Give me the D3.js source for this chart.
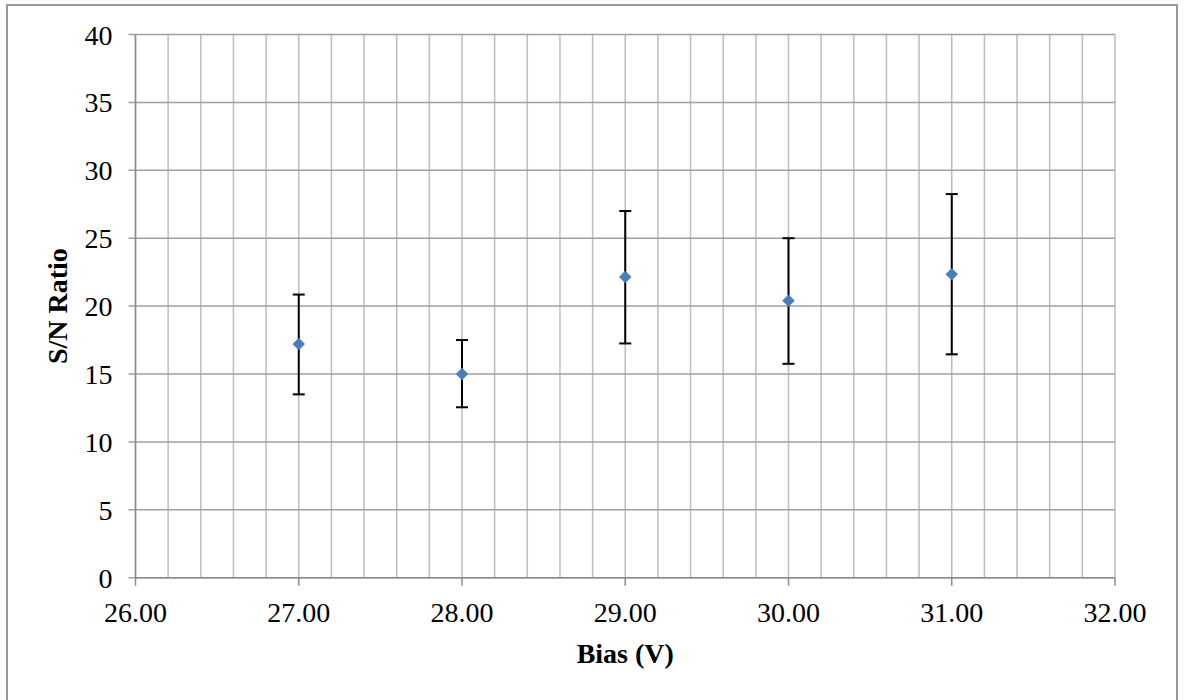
<!DOCTYPE html>
<html>
<head>
<meta charset="utf-8">
<script src="https://cdn.jsdelivr.net/npm/d3@7"></script>
<style>
  body { margin: 0; background: #fff; }
</style>
</head>
<body>
<div id="chart"></div>
<script>
// data
var bias = [27, 28, 29, 30, 31];
var snr = [17.2, 15.0, 22.15, 20.4, 22.35];
var errLow = [13.5, 12.55, 17.25, 15.75, 16.45];
var errHigh = [20.85, 17.5, 27.0, 25.0, 28.25];
var xTicks = [26, 27, 28, 29, 30, 31, 32];
var yTicks = [0, 5, 10, 15, 20, 25, 30, 35, 40];

var width = 1184, height = 700;
var margin = {left: 135.5, right: 69, top: 34.5, bottom: 122.3};
var serif = "'Liberation Serif', 'Times New Roman', 'DejaVu Serif', serif";

var svg = d3.select("#chart").append("svg")
    .attr("width", width)
    .attr("height", height)
    .attr("font-family", serif);

// outer frame
svg.append("rect")
    .attr("x", 7).attr("y", 5)
    .attr("width", 1170).attr("height", 700)
    .attr("fill", "none")
    .attr("stroke", "#9a9a9a")
    .attr("stroke-width", 2);

var x = d3.scaleLinear().domain([26, 32]).range([margin.left, width - margin.right]);
var y = d3.scaleLinear().domain([0, 40]).range([height - margin.bottom, margin.top]);

// minor vertical grid every 0.2
var vGrid = d3.range(0, 31).map(i => 26 + i * 0.2);
svg.append("g")
    .selectAll("line")
    .data(vGrid)
    .join("line")
    .attr("x1", d => x(d)).attr("x2", d => x(d))
    .attr("y1", y(0)).attr("y2", y(40))
    .attr("stroke", "#bdbdbd")
    .attr("stroke-width", 1.5);

// horizontal grid
svg.append("g")
    .selectAll("line")
    .data(yTicks)
    .join("line")
    .attr("x1", x(26) - 7).attr("x2", x(32))
    .attr("y1", d => y(d)).attr("y2", d => y(d))
    .attr("stroke", "#a0a0a0")
    .attr("stroke-width", 1.5);

// axis lines
svg.append("line")
    .attr("x1", x(26)).attr("x2", x(26))
    .attr("y1", y(0)).attr("y2", y(40))
    .attr("stroke", "#8c8c8c").attr("stroke-width", 1.5);
svg.append("line")
    .attr("x1", x(26)).attr("x2", x(32))
    .attr("y1", y(0)).attr("y2", y(0))
    .attr("stroke", "#8c8c8c").attr("stroke-width", 1.5);

// x ticks
svg.append("g")
    .selectAll("line")
    .data(xTicks)
    .join("line")
    .attr("x1", d => x(d)).attr("x2", d => x(d))
    .attr("y1", y(0)).attr("y2", y(0) + 8)
    .attr("stroke", "#8c8c8c").attr("stroke-width", 1.5);

svg.append("g")
    .selectAll("text")
    .data(xTicks)
    .join("text")
    .attr("x", d => x(d))
    .attr("y", y(0) + 44)
    .attr("text-anchor", "middle")
    .attr("font-size", 28)
    .text(d => d3.format(".2f")(d));

svg.append("g")
    .selectAll("text")
    .data(yTicks)
    .join("text")
    .attr("x", x(26) - 23)
    .attr("y", d => y(d) + 10)
    .attr("text-anchor", "end")
    .attr("font-size", 28)
    .text(d => d);

// axis titles
svg.append("text")
    .attr("x", (x(26) + x(32)) / 2)
    .attr("y", 663)
    .attr("text-anchor", "middle")
    .attr("font-size", 28)
    .attr("font-weight", "bold")
    .text("Bias (V)");

svg.append("text")
    .attr("transform", "translate(67," + ((y(0) + y(40)) / 2) + ") rotate(-90)")
    .attr("text-anchor", "middle")
    .attr("font-size", 28)
    .attr("font-weight", "bold")
    .text("S/N Ratio");

// error bars
var pts = bias.map((b, i) => ({x: b, y: snr[i], lo: errLow[i], hi: errHigh[i]}));
var eb = svg.append("g").attr("stroke", "#000").attr("stroke-width", 2);
eb.selectAll(".stem")
    .data(pts)
    .join("line")
    .attr("x1", d => x(d.x)).attr("x2", d => x(d.x))
    .attr("y1", d => y(d.lo)).attr("y2", d => y(d.hi));
eb.selectAll(".capHi")
    .data(pts)
    .join("line")
    .attr("x1", d => x(d.x) - 6).attr("x2", d => x(d.x) + 6)
    .attr("y1", d => y(d.hi)).attr("y2", d => y(d.hi));
eb.selectAll(".capLo")
    .data(pts)
    .join("line")
    .attr("x1", d => x(d.x) - 6).attr("x2", d => x(d.x) + 6)
    .attr("y1", d => y(d.lo)).attr("y2", d => y(d.lo));

// diamond markers
svg.append("g")
    .selectAll("path")
    .data(pts)
    .join("path")
    .attr("transform", d => "translate(" + x(d.x) + "," + y(d.y) + ")")
    .attr("d", "M0,-6L6,0L0,6L-6,0Z")
    .attr("fill", "#4a7ebb")
    .attr("stroke", "#4a7ebb")
    .attr("stroke-width", 0.5);
</script>
</body>
</html>
